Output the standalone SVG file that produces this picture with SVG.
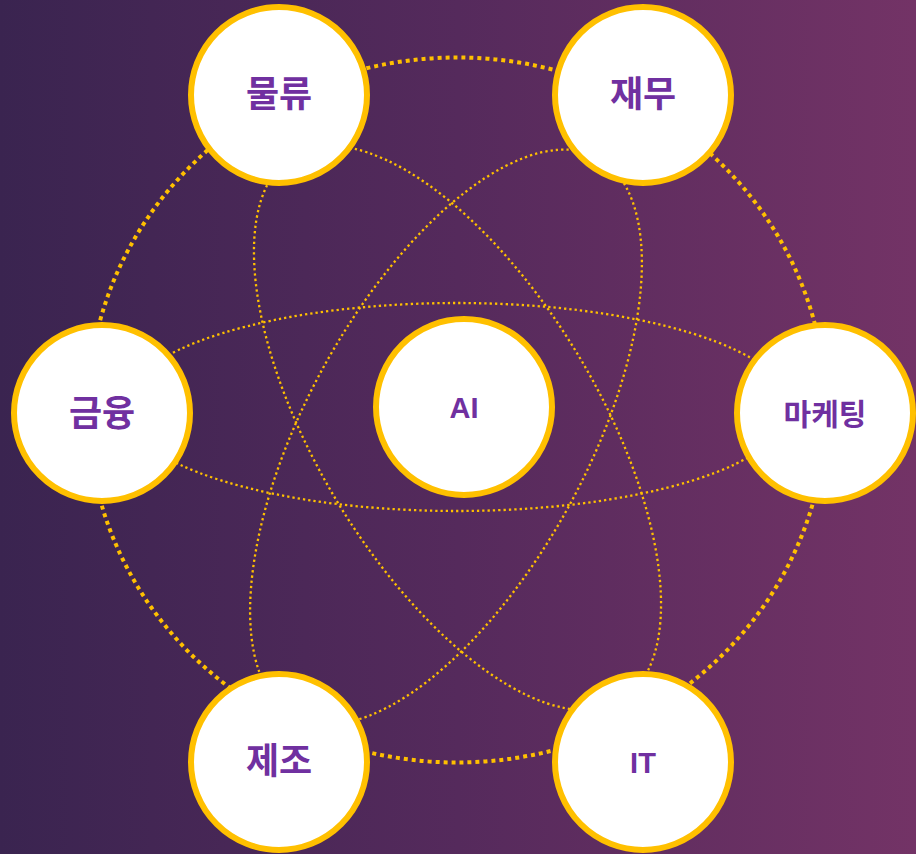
<svg xmlns="http://www.w3.org/2000/svg" width="916" height="854" viewBox="0 0 916 854">
  <defs>
    <linearGradient id="bg" x1="0" y1="0" x2="1" y2="0">
      <stop offset="0" stop-color="#3A2450"/>
      <stop offset="0.5" stop-color="#552A5C"/>
      <stop offset="1" stop-color="#733366"/>
    </linearGradient>
  </defs>
  <style>
    .outer { fill: none; stroke: #FFC000; stroke-width: 4; stroke-dasharray: 4 4; }
    .orbit { fill: none; stroke: #FFC000; stroke-width: 2.3; stroke-dasharray: 2.3 3; }
    .node circle { fill: #FFFFFF; stroke: #FFC000; stroke-width: 6; }
    .ko { font-family: "Noto Sans CJK KR", "Noto Sans", sans-serif; font-weight: 700; fill: #7030A0; text-anchor: middle; }
    .en { font-family: "Liberation Sans", Arial, sans-serif; font-weight: 700; fill: #7030A0; text-anchor: middle; }
  </style>
  <rect x="0" y="0" width="916" height="854" fill="url(#bg)"/>
  <g id="connectors">
    <ellipse class="outer" cx="457" cy="410" rx="369" ry="352.5"/>
    <ellipse class="orbit" cx="457" cy="407" rx="333" ry="104"/>
    <ellipse class="orbit" cx="0" cy="0" rx="318" ry="141" transform="translate(457.5 428) rotate(59)"/>
    <ellipse class="orbit" cx="0" cy="0" rx="318" ry="141" transform="translate(446 437) rotate(-61.5)"/>
  </g>
  <g id="node-ai" class="node">
    <circle cx="464" cy="407" r="88"/>
    <text class="en" x="464" y="418" font-size="29">AI</text>
  </g>
  <g id="node-logistics" class="node">
    <circle cx="279" cy="95" r="88"/>
    <text class="ko" x="279" y="107" font-size="36">물류</text>
  </g>
  <g id="node-finance-dept" class="node">
    <circle cx="643" cy="95" r="88"/>
    <text class="ko" x="643" y="107" font-size="36">재무</text>
  </g>
  <g id="node-finance" class="node">
    <circle cx="102" cy="413" r="88"/>
    <text class="ko" x="102" y="426" font-size="36">금융</text>
  </g>
  <g id="node-marketing" class="node">
    <circle cx="825" cy="413" r="88"/>
    <text class="ko" x="825" y="425" font-size="30">마케팅</text>
  </g>
  <g id="node-manufacturing" class="node">
    <circle cx="279" cy="762" r="88"/>
    <text class="ko" x="279" y="774" font-size="36">제조</text>
  </g>
  <g id="node-it" class="node">
    <circle cx="643" cy="762" r="88"/>
    <text class="en" x="643" y="773" font-size="29">IT</text>
  </g>
</svg>
